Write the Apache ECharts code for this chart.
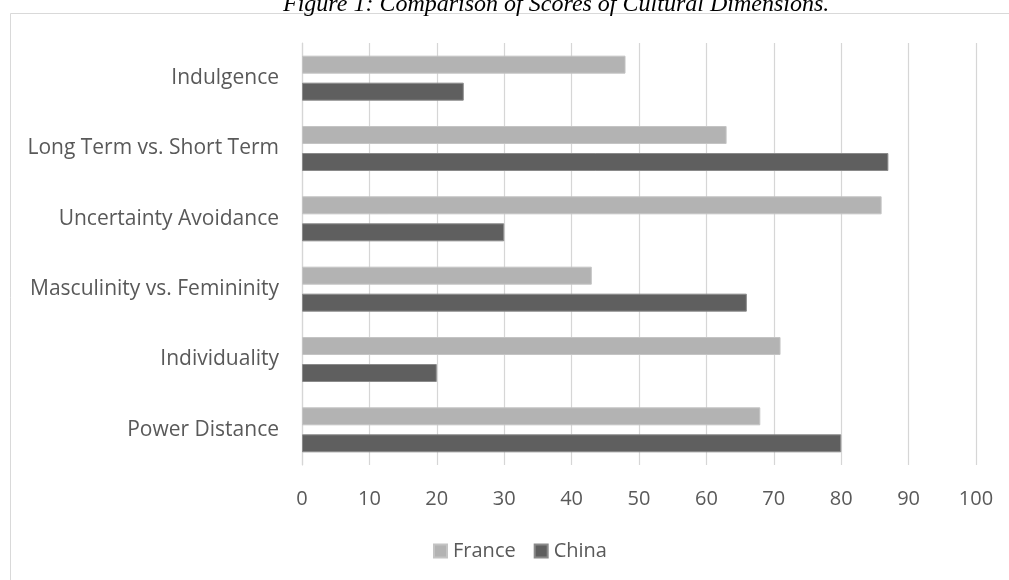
<!DOCTYPE html>
<html>
<head>
<meta charset="utf-8">
<script src="https://cdn.jsdelivr.net/npm/echarts@6/dist/echarts.min.js"></script>
<style>
  html, body { margin: 0; padding: 0; background: #fff; }
  #container { width: 1009px; height: 580px; }
</style>
</head>
<body>
<div id="container"></div>
<script>
var categories = ['Power Distance', 'Individuality', 'Masculinity vs. Femininity',
                  'Uncertainty Avoidance', 'Long Term vs. Short Term', 'Indulgence'];
var france = [68, 71, 43, 86, 63, 48];
var china = [80, 20, 66, 30, 87, 24];
var xTicks = [0, 100, 10];  // min, max, interval

var chart = echarts.init(document.getElementById('container'));

var labelFont = '"Open Sans", "Noto Sans", sans-serif';

var option = {
	animation: false,
	backgroundColor: '#fff',
	graphic: [
		{
			type: 'rect',
			shape: { x: 10.5, y: 13.5, width: 1100, height: 700 },
			style: { fill: 'none', stroke: '#d9d9d9', lineWidth: 1 },
			z: -1
		},
		{
			type: 'text',
			left: 283,
			top: -7,
			style: {
				text: 'Figure 1: Comparison of Scores of Cultural Dimensions.',
				font: 'italic 24px "Liberation Serif", "DejaVu Serif", serif',
				fill: '#000'
			}
		}
	],
	grid: { left: 302, right: 33, top: 43, bottom: 115 },
	legend: {
		left: 428,
		top: 536,
		itemWidth: 13,
		itemHeight: 13,
		itemGap: 18,
		icon: 'rect',
		textStyle: { color: '#595959', fontSize: 20, fontFamily: labelFont, padding: [0, 0, 0, 1] },
		data: ['France', 'China']
	},
	xAxis: {
		type: 'value',
		min: xTicks[0],
		max: xTicks[1],
		interval: xTicks[2],
		axisLine: { show: false },
		axisTick: { show: false },
		splitLine: { lineStyle: { color: '#d6d6d6', width: 1.2 } },
		axisLabel: { color: '#595959', fontSize: 20, fontFamily: labelFont, margin: 24 }
	},
	yAxis: {
		type: 'category',
		data: categories,
		axisLine: { show: true, lineStyle: { color: '#d6d6d6', width: 1.2 } },
		axisTick: { show: false },
		axisLabel: { color: '#595959', fontSize: 21, fontFamily: labelFont, margin: 23 }
	},
	series: [
		{
			name: 'France',
			type: 'bar',
			data: france,
			barWidth: 18,
			barGap: '50%',
			itemStyle: { color: '#b3b3b3', borderColor: '#c4c4c4', borderWidth: 1 }
		},
		{
			name: 'China',
			type: 'bar',
			data: china,
			barWidth: 18,
			barGap: '50%',
			itemStyle: { color: '#5f5f5f', borderColor: '#8a8a8a', borderWidth: 1 }
		}
	]
};

chart.setOption(option);
</script>
</body>
</html>
